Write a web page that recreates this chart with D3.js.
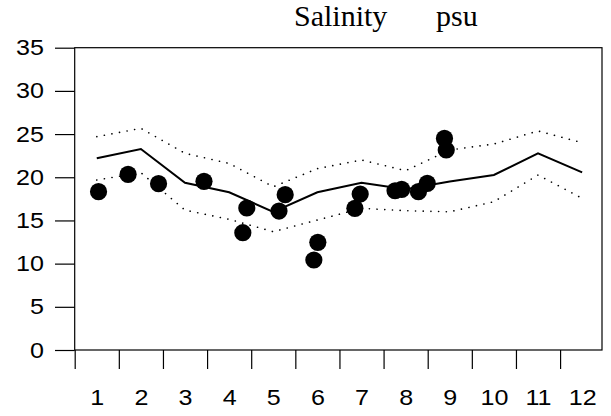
<!DOCTYPE html>
<html>
<head>
<meta charset="utf-8">
<script src="https://cdn.jsdelivr.net/npm/d3@7/dist/d3.min.js"></script>
<style>
  body { margin: 0; background: #fff; }
  svg { display: block; }
  .title { font-family: 'Liberation Serif', 'Times New Roman', Times, 'DejaVu Serif', serif; font-size: 30px; }
</style>
</head>
<body>
<svg id="chart"></svg>
<script>
// monthly salinity climatology (mean and bounds) and single observations
const months = [1, 2, 3, 4, 5, 6, 7, 8, 9, 10, 11, 12];
const meanSal = [22.2, 23.27, 19.37, 18.26, 16.0, 18.26, 19.37, 18.6, 19.5, 20.26, 22.77, 20.57];
const upperSal = [24.7, 25.66, 22.77, 21.6, 18.9, 21.0, 22.0, 20.76, 23.16, 23.85, 25.36, 24.0];
const lowerSal = [19.68, 20.53, 16.2, 15.13, 13.7, 15.05, 16.4, 16.13, 16.0, 17.17, 20.26, 17.56];

const obsMonth = [1.04, 1.71, 2.40, 3.43, 4.31, 4.40, 5.13, 5.27, 5.92, 6.01, 6.85, 6.97, 7.76, 7.91, 8.29, 8.49, 8.88, 8.92];
const obsSal = [18.33, 20.34, 19.26, 19.53, 13.58, 16.44, 16.09, 17.98, 10.42, 12.47, 16.4, 18.06, 18.44, 18.6, 18.33, 19.3, 24.5, 23.16];

const yTicks = [0, 5, 10, 15, 20, 25, 30, 35];
const xTicks = [0.5, 1.5, 2.5, 3.5, 4.5, 5.5, 6.5, 7.5, 8.5, 9.5, 10.5, 11.5];

const W = 611, H = 416;
const margin = {top: 47.7, right: 9, bottom: 66, left: 74.7};
const width = W - margin.left - margin.right;
const height = H - margin.top - margin.bottom;

const svg = d3.select('#chart')
    .attr('width', W)
    .attr('height', H);

const graph = svg.append('g')
    .attr('transform', `translate(${margin.left}, ${margin.top})`);

const x = d3.scaleLinear()
    .domain([0.5, 12.45])
    .range([0, width]);

const y = d3.scaleLinear()
    .domain([0, 35])
    .range([height, 0]);

const numFont = '"Liberation Sans", Arial, sans-serif';

// y axis
const yAxis = d3.axisLeft(y)
    .tickValues(yTicks)
    .tickSize(19.7)
    .tickPadding(11);

const gy = graph.append('g').call(yAxis);
gy.select('.domain').remove();
gy.selectAll('.tick line').attr('stroke', '#000').attr('stroke-width', 1.2);
gy.selectAll('.tick text')
    .style('font-family', numFont)
    .style('font-size', '22px')
    .attr('fill', '#000')
    .attr('x', null)
    .attr('transform', 'translate(-30.7,0) scale(1.14,1)');

// x axis ticks (between months)
const xAxis = d3.axisBottom(x)
    .tickValues(xTicks)
    .tickSize(19)
    .tickFormat('');

const gx = graph.append('g')
    .attr('transform', `translate(0, ${height})`)
    .call(xAxis);
gx.select('.domain').remove();
gx.selectAll('.tick line').attr('stroke', '#000').attr('stroke-width', 1.2);

// month labels
const labelAxis = d3.axisBottom(x)
    .tickValues(months)
    .tickSize(0)
    .tickFormat(d3.format('d'));

const gl = graph.append('g')
    .attr('transform', `translate(0, ${height})`)
    .call(labelAxis);
gl.select('.domain').remove();
gl.selectAll('.tick text')
    .style('font-family', numFont)
    .style('font-size', '22px')
    .attr('fill', '#000')
    .attr('dy', null)
    .attr('y', null)
    .attr('transform', 'translate(0,55) scale(1.14,1)');

// frame
graph.append('rect')
    .attr('width', width)
    .attr('height', height)
    .attr('fill', 'none')
    .attr('stroke', '#000')
    .attr('stroke-width', 1.2);

const line = d3.line()
    .x((d, i) => x(months[i]))
    .y(d => y(d));

[upperSal, lowerSal].forEach(s => {
  graph.append('path')
      .datum(s)
      .attr('d', line)
      .attr('fill', 'none')
      .attr('stroke', '#000')
      .attr('stroke-width', 1.6)
      .attr('stroke-linecap', 'round')
      .attr('stroke-dasharray', '0.1,7.6');
});

graph.append('path')
    .datum(meanSal)
    .attr('d', line)
    .attr('fill', 'none')
    .attr('stroke', '#000')
    .attr('stroke-width', 2);

graph.selectAll('.obs')
    .data(obsSal)
  .enter().append('circle')
    .attr('class', 'obs')
    .attr('cx', (d, i) => x(obsMonth[i]))
    .attr('cy', d => y(d))
    .attr('r', 8.6)
    .attr('fill', '#000');

// title
svg.append('text')
    .attr('class', 'title')
    .attr('x', 294)
    .attr('y', 26)
    .text('Salinity');
svg.append('text')
    .attr('class', 'title')
    .attr('x', 436)
    .attr('y', 26)
    .text('psu');
</script>
</body>
</html>
